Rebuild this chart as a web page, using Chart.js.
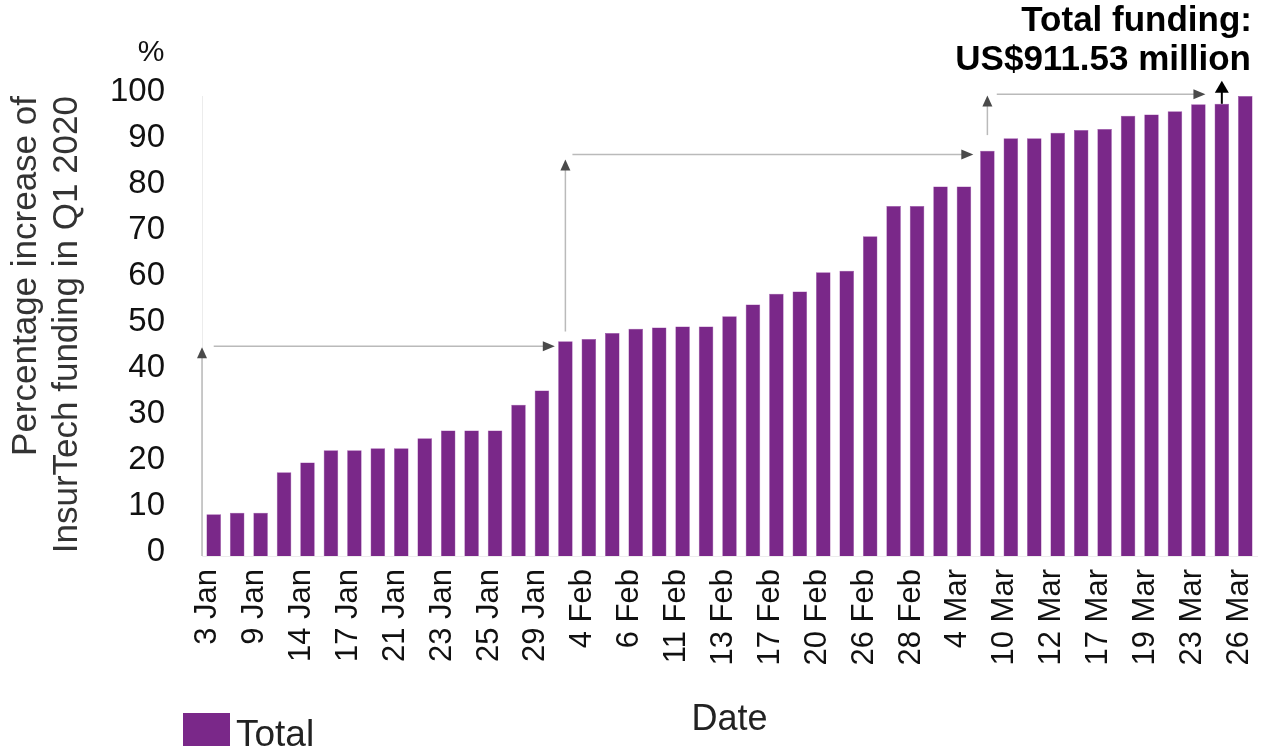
<!DOCTYPE html>
<html>
<head>
<meta charset="utf-8">
<title>InsurTech funding Q1 2020</title>
<script src="https://cdn.jsdelivr.net/npm/chart.js@4/dist/chart.umd.min.js"></script>
<style>
  html, body { margin: 0; padding: 0; background: #fff; }
  #wrap { width: 1263px; height: 749px; }
</style>
</head>
<body>
<div id="wrap"><canvas id="fundingChart"></canvas></div>
<script>
// every second deal date is labelled on the axis
const dates = ['3 Jan', '', '9 Jan', '', '14 Jan', '', '17 Jan', '', '21 Jan', '', '23 Jan', '',
    '25 Jan', '', '29 Jan', '', '4 Feb', '', '6 Feb', '', '11 Feb', '', '13 Feb', '', '17 Feb', '',
    '20 Feb', '', '26 Feb', '', '28 Feb', '', '4 Mar', '', '10 Mar', '', '12 Mar', '', '17 Mar', '',
    '19 Mar', '', '23 Mar', '', '26 Mar'];
const total = [9.1, 9.4, 9.4, 18.2, 20.3, 23.0, 23.0, 23.4, 23.4, 25.6, 27.3, 27.3, 27.3, 32.9, 36.0,
    46.7, 47.2, 48.5, 49.4, 49.7, 49.9, 49.9, 52.1, 54.7, 57.0, 57.5, 61.7, 62.0, 69.5, 76.1, 76.1,
    80.3, 80.3, 88.1, 90.8, 90.8, 92.0, 92.6, 92.8, 95.7, 96.0, 96.7, 98.2, 98.3, 100];
const yTicks = [0, 10, 20, 30, 40, 50, 60, 70, 80, 90, 100];
const fundingNote = ['Total funding:', 'US$911.53 million'];

const purple = '#7a2889';
Chart.defaults.font.family = "'Liberation Sans', Arial, Helvetica, sans-serif";

function arrowHead(ctx, x, y, dir, len, half) {
    ctx.beginPath();
    if (dir === 'up') {
        ctx.moveTo(x, y);
        ctx.lineTo(x - half, y + len);
        ctx.lineTo(x + half, y + len);
    } else {
        ctx.moveTo(x, y);
        ctx.lineTo(x - len, y - half);
        ctx.lineTo(x - len, y + half);
    }
    ctx.closePath();
    ctx.fill();
}

// step arrows, legend and the funding note
const notes = {
    id: 'notes',
    afterDraw(chart) {
        const {ctx, scales: {x, y}} = chart;
        const step = x.getPixelForValue(1) - x.getPixelForValue(0);
        const bx = i => x.getPixelForValue(i);

        ctx.save();
        ctx.lineWidth = 1.5;
        ctx.strokeStyle = '#bababa';
        ctx.fillStyle = '#4a4a4a';

        const steps = [
            {vx: bx(0) - step / 2, v0: 0, v1: 45.4, hy: 45.6, h0: bx(0), h1: bx(15) - step * 0.45},
            {vx: bx(15), v0: 48.8, v1: 86.2, hy: 87.3, h0: bx(15) + step * 0.3, h1: bx(33) - step * 0.6},
            {vx: bx(33), v0: 91.5, v1: 100.1, hy: 100.4, h0: bx(33) + step * 0.4, h1: bx(43) - step * 0.7}
        ];
        steps.forEach(s => {
            const yTop = y.getPixelForValue(s.v1);
            ctx.beginPath();
            ctx.moveTo(s.vx, y.getPixelForValue(s.v0));
            ctx.lineTo(s.vx, yTop + 8);
            ctx.stroke();
            arrowHead(ctx, s.vx, yTop, 'up', 11, 5);

            const hy = y.getPixelForValue(s.hy);
            ctx.beginPath();
            ctx.moveTo(s.h0, hy);
            ctx.lineTo(s.h1 - 8, hy);
            ctx.stroke();
            arrowHead(ctx, s.h1, hy, 'right', 12, 5);
        });

        // final arrow up to the total
        const fx = bx(43);
        const fTop = y.getPixelForValue(103.3);
        ctx.strokeStyle = '#000';
        ctx.fillStyle = '#000';
        ctx.lineWidth = 2;
        ctx.beginPath();
        ctx.moveTo(fx, y.getPixelForValue(total[43]));
        ctx.lineTo(fx, fTop + 8);
        ctx.stroke();
        arrowHead(ctx, fx, fTop, 'up', 12, 7);

        ctx.font = "bold 35px 'Liberation Sans', Arial, sans-serif";
        ctx.textAlign = 'right';
        ctx.textBaseline = 'alphabetic';
        ctx.fillText(fundingNote[0], 1252, 31);
        ctx.fillText(fundingNote[1], 1251, 70);

        // unit above the value axis
        ctx.font = "30px 'Liberation Sans', Arial, sans-serif";
        ctx.fillStyle = '#111';
        ctx.textAlign = 'center';
        ctx.fillText('%', 151, 61);

        // legend
        const ds = chart.data.datasets[0];
        ctx.fillStyle = ds.backgroundColor;
        ctx.fillRect(183, 713, 47, 33);
        ctx.fillStyle = '#222';
        ctx.textAlign = 'left';
        ctx.font = "37px 'Liberation Sans', Arial, sans-serif";
        ctx.fillText(ds.label, 236, 746);
        ctx.restore();
    }
};

const chart = new Chart(document.getElementById('fundingChart'), {
    type: 'bar',
    data: {
        labels: dates,
        datasets: [{
            label: 'Total',
            data: total,
            backgroundColor: purple,
            borderColor: '#9a4aa8',
            borderWidth: 0.5,
            barPercentage: 0.62,
            categoryPercentage: 1
        }]
    },
    options: {
        responsive: true,
        maintainAspectRatio: false,
        animation: false,
        layout: { padding: { top: 96, right: 6, left: 0, bottom: 0 } },
        scales: {
            x: {
                grid: { display: false, drawTicks: false },
                border: { color: '#ececec' },
                ticks: {
                    autoSkip: false,
                    minRotation: 90,
                    maxRotation: 90,
                    padding: 13,
                    labelOffset: -6,
                    color: '#111',
                    font: { size: 31 }
                },
                title: {
                    display: true,
                    text: 'Date',
                    color: '#222',
                    font: { size: 36 },
                    padding: { top: 0, bottom: 7 }
                },
                afterFit(scale) {
                    scale.height = 193;
                    scale.paddingLeft = 0;
                    scale.paddingRight = 0;
                }
            },
            y: {
                min: 0,
                max: 100,
                grid: { display: false, drawTicks: false },
                border: { color: '#ececec' },
                afterBuildTicks(scale) {
                    scale.ticks = yTicks.map(v => ({ value: v }));
                },
                ticks: {
                    padding: 37,
                    labelOffset: -4,
                    color: '#111',
                    font: { size: 33 }
                },
                title: {
                    display: true,
                    align: 'end',
                    text: ['Percentage increase of', 'InsurTech funding in Q1 2020'],
                    color: '#333',
                    font: { size: 35, lineHeight: 1.17 },
                    padding: { top: 6, bottom: 0 }
                },
                afterFit(scale) {
                    scale.width = 202;
                    scale.paddingTop = 0;
                    scale.paddingBottom = 0;
                }
            }
        },
        plugins: {
            legend: { display: false },
            tooltip: { enabled: false }
        }
    },
    plugins: [notes]
});
</script>
</body>
</html>
